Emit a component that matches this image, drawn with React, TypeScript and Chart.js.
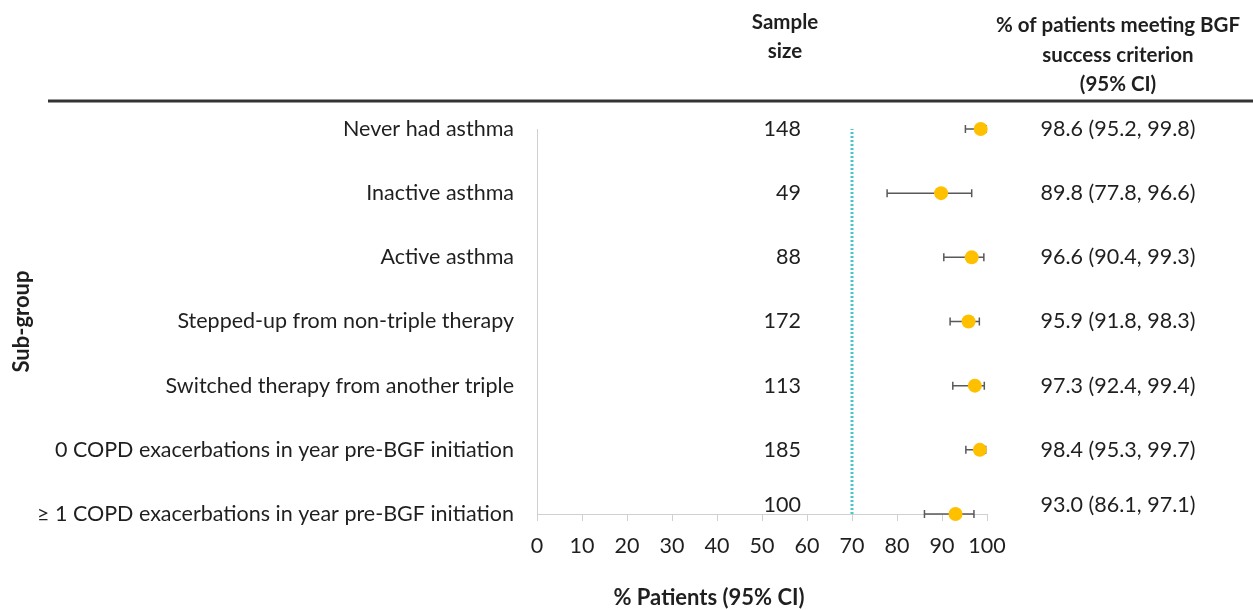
import React, { useEffect, useRef } from 'react';
import { Chart, registerables } from 'chart.js';

Chart.register(...registerables);

const categories = [
  'Never had asthma',
  'Inactive asthma',
  'Active asthma',
  'Stepped-up from non-triple therapy',
  'Switched therapy from another triple',
  '0 COPD exacerbations in year pre-BGF initiation',
  '≥ 1 COPD exacerbations in year pre-BGF initiation',
];
const sampleSizes = [148, 49, 88, 172, 113, 185, 100];
const estimates = [98.6, 89.8, 96.6, 95.9, 97.3, 98.4, 93.0];
const ciLow = [95.2, 77.8, 90.4, 91.8, 92.4, 95.3, 86.1];
const ciHigh = [99.8, 96.6, 99.3, 98.3, 99.4, 99.7, 97.1];
const referenceValue = 70;
const xMin = 0;
const xMax = 100;
const xStep = 10;

const FONT = 'Lato, "Noto Sans", sans-serif';
const TEXT = '#1f1f1f';
const SIZE = 21.5;

const rowY = (i: number) => categories.length - 1 - i;

export default function App() {
  const ref = useRef<HTMLCanvasElement | null>(null);

  useEffect(() => {
    document.body.style.margin = '0';
    const canvas = ref.current;
    if (!canvas) return;

    const overlay = {
      id: 'forestOverlay',
      beforeDatasetsDraw(chart: any) {
        const { ctx, scales } = chart;
        const xs = scales.x;
        const ys = scales.y;
        ctx.save();
        ctx.strokeStyle = '#595959';
        ctx.lineWidth = 1.5;
        estimates.forEach((_, i) => {
          const y = ys.getPixelForValue(rowY(i));
          const x1 = xs.getPixelForValue(ciLow[i]);
          const x2 = xs.getPixelForValue(ciHigh[i]);
          ctx.beginPath();
          ctx.moveTo(x1, y);
          ctx.lineTo(x2, y);
          ctx.moveTo(x1, y - 4);
          ctx.lineTo(x1, y + 4);
          ctx.moveTo(x2, y - 4);
          ctx.lineTo(x2, y + 4);
          ctx.stroke();
        });
        ctx.restore();
      },
      afterDraw(chart: any) {
        const { ctx, scales } = chart;
        const ys = scales.y;
        ctx.save();
        // header
        ctx.fillStyle = TEXT;
        ctx.textAlign = 'center';
        ctx.textBaseline = 'middle';
        ctx.font = `bold 20.5px ${FONT}`;
        ctx.fillText('Sample', 785, 22);
        ctx.fillText('size', 785, 51);
        ctx.fillText('% of patients meeting BGF', 1118, 25);
        ctx.fillText('success criterion', 1118, 55);
        ctx.fillText('(95% CI)', 1118, 84);
        ctx.strokeStyle = '#333333';
        ctx.lineWidth = 3;
        ctx.beginPath();
        ctx.moveTo(48, 101);
        ctx.lineTo(1253, 101);
        ctx.stroke();

        // columns
        ctx.font = `${SIZE}px ${FONT}`;
        categories.forEach((_, i) => {
          const v = rowY(i);
          const y = ys.getPixelForValue(v) - (v === 0 ? 9 : 0);
          ctx.textAlign = 'right';
          ctx.fillText(String(sampleSizes[i]), 801, y);
          ctx.textAlign = 'center';
          ctx.fillText(
            `${estimates[i].toFixed(1)} (${ciLow[i].toFixed(1)}, ${ciHigh[i].toFixed(1)})`,
            1118,
            y
          );
        });

        // axis title
        ctx.font = `bold 22px ${FONT}`;
        ctx.textAlign = 'center';
        ctx.fillText('% Patients (95% CI)', 709, 598);
        ctx.restore();
      },
    };

    const chart = new Chart(canvas, {
      type: 'scatter',
      data: {
        datasets: [
          {
            type: 'line',
            data: [
              { x: referenceValue, y: 0 },
              { x: referenceValue, y: categories.length - 1 },
            ],
            borderColor: '#47C7C7',
            borderWidth: 3,
            borderDash: [2, 2],
            pointRadius: 0,
            fill: false,
          } as any,
          {
            type: 'scatter',
            data: estimates.map((v, i) => ({ x: v, y: rowY(i) })),
            backgroundColor: '#FFC000',
            borderWidth: 0,
            pointRadius: 7,
            pointHoverRadius: 7,
            clip: false,
          } as any,
        ],
      },
      options: {
        responsive: false,
        animation: false,
        events: [],
        layout: { padding: { left: 0, top: 129, right: 266, bottom: 36 } },
        plugins: {
          legend: { display: false },
          tooltip: { enabled: false },
        },
        scales: {
          x: {
            type: 'linear',
            min: xMin,
            max: xMax,
            afterFit: (s: any) => {
              s.height = 60;
            },
            ticks: {
              stepSize: xStep,
              color: TEXT,
              font: { family: FONT, size: SIZE },
              padding: 12,
              maxRotation: 0,
            },
            grid: {
              drawOnChartArea: false,
              drawTicks: true,
              tickLength: 7,
              color: '#d0d0d0',
            },
            border: { color: '#d0d0d0', width: 1 },
          },
          y: {
            type: 'linear',
            min: 0,
            max: categories.length - 1,
            afterFit: (s: any) => {
              s.width = 537;
            },
            afterBuildTicks: (s: any) => {
              s.ticks = categories.map((_, i) => ({ value: rowY(i) }));
            },
            ticks: {
              autoSkip: false,
              color: TEXT,
              font: { family: FONT, size: SIZE },
              padding: 23,
              callback: (v: any) => categories[categories.length - 1 - Number(v)],
            },
            grid: { display: false, drawTicks: false },
            border: { color: '#d0d0d0', width: 1 },
            title: {
              display: true,
              text: 'Sub-group',
              color: TEXT,
              font: { family: FONT, size: 22, weight: 'bold' },
              padding: { top: 9, bottom: 0 },
            },
          },
        },
      },
      plugins: [overlay],
    });

    return () => chart.destroy();
  }, []);

  return (
    <div style={{ width: 1253, height: 610 }}>
      <canvas ref={ref} width={1253} height={610} style={{ display: 'block' }} />
    </div>
  );
}
